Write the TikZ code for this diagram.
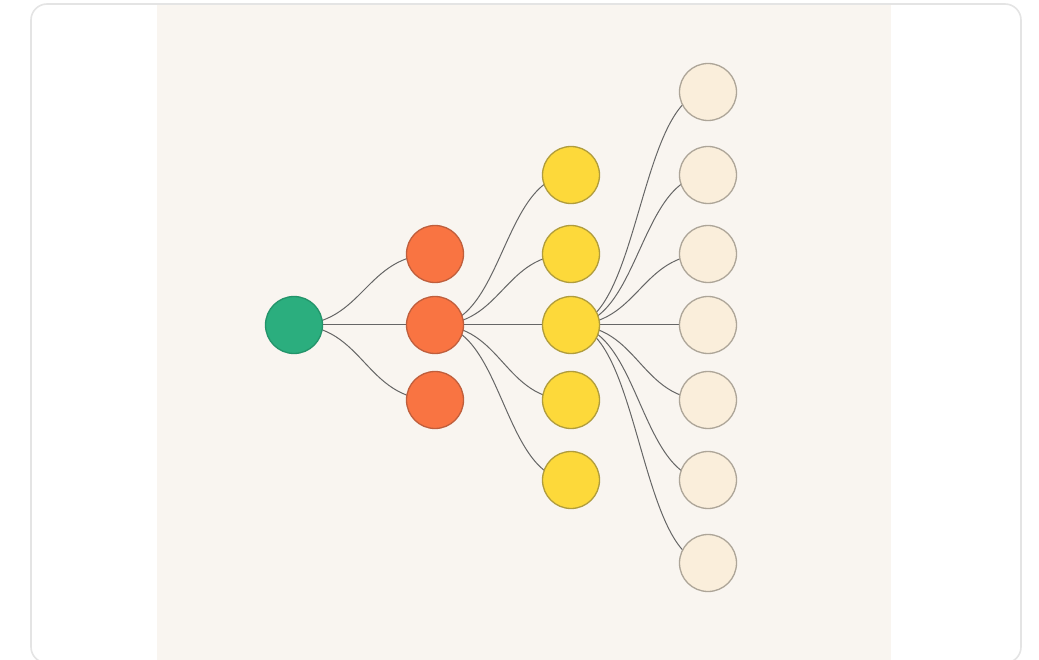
\documentclass[tikz,border=0pt]{standalone}
\usetikzlibrary{calc}
\pgfdeclarelayer{back}
\pgfdeclarelayer{edges}
\pgfsetlayers{back,edges,main}
\definecolor{cardline}{HTML}{E4E4E4}
\definecolor{beige}{HTML}{F9F5F0}
\definecolor{greenfill}{HTML}{2BAE7E}
\definecolor{greenline}{HTML}{23946A}
\definecolor{orangefill}{HTML}{F97442}
\definecolor{orangeline}{HTML}{BF5E3C}
\definecolor{yellowfill}{HTML}{FDD93A}
\definecolor{yellowline}{HTML}{B09C3C}
\definecolor{creamfill}{HTML}{FAEEDB}
\definecolor{creamline}{HTML}{ADA598}
\definecolor{edgecol}{HTML}{666666}
\tikzset{
  x=1pt, y=-1pt,
  dot/.style={circle, minimum size=57pt, inner sep=0pt, line width=1.3pt},
  gdot/.style={dot, fill=greenfill, draw=greenline},
  odot/.style={dot, fill=orangefill, draw=orangeline},
  ydot/.style={dot, fill=yellowfill, draw=yellowline},
  cdot/.style={dot, fill=creamfill, draw=creamline},
  link/.style={draw=edgecol, line width=1pt}
}
\newcommand{\mylink}[2]{%
  \path[link] let \p1=(#1.center), \p2=(#2.center), \n1={(\x1+\x2)/2} in
    (\p1) .. controls (\n1,\y1) and (\n1,\y2) .. (\p2);}
\begin{document}
\begin{tikzpicture}
\useasboundingbox (0,0) rectangle (1039,660);
% nodes
\node[gdot] (g) at (294,325) {};
\node[odot] (o1) at (435,254) {};
\node[odot] (o2) at (435,325) {};
\node[odot] (o3) at (435,400) {};
\node[ydot] (y1) at (571,175) {};
\node[ydot] (y2) at (571,254) {};
\node[ydot] (y3) at (571,325) {};
\node[ydot] (y4) at (571,400) {};
\node[ydot] (y5) at (571,480) {};
\node[cdot] (c1) at (708,92) {};
\node[cdot] (c2) at (708,175) {};
\node[cdot] (c3) at (708,254) {};
\node[cdot] (c4) at (708,325) {};
\node[cdot] (c5) at (708,400) {};
\node[cdot] (c6) at (708,480) {};
\node[cdot] (c7) at (708,563) {};
\begin{pgfonlayer}{back}
  \begin{scope}
    \path[fill=white, draw=cardline, line width=1.6pt, rounded corners=16pt]
      (31,4) rectangle (1021,663);
    \clip[rounded corners=16pt] (32,5) rectangle (1020,662);
    \fill[beige] (157,5) rectangle (891,662);
  \end{scope}
\end{pgfonlayer}
\begin{pgfonlayer}{edges}
  \foreach \t in {o1,o2,o3} {\mylink{g}{\t}}
  \foreach \t in {y1,y2,y3,y4,y5} {\mylink{o2}{\t}}
  \foreach \t in {c1,c2,c3,c4,c5,c6,c7} {\mylink{y3}{\t}}
\end{pgfonlayer}
\end{tikzpicture}
\end{document}
